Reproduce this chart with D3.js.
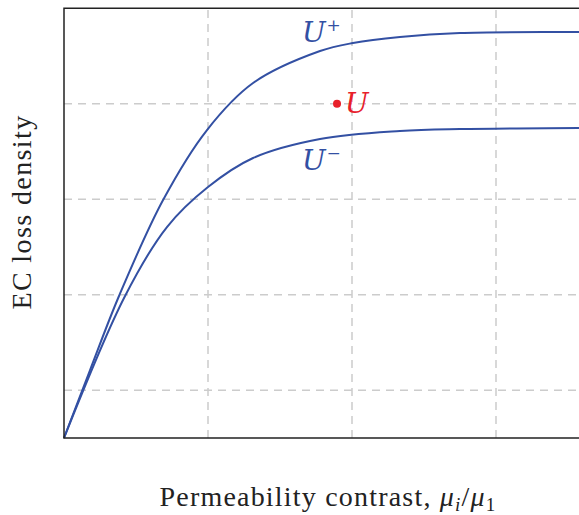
<!DOCTYPE html>
<html><head><meta charset="utf-8">
<script src="https://cdn.jsdelivr.net/npm/d3@7"></script>
<style>body{margin:0;background:#fff;} svg{display:block;}</style>
</head><body>
<script>
const xTicks = [1, 2, 3];
const yTicks = [0.5, 1.5, 2.5, 3.5];
const upperX = [0, 0.181, 0.382, 0.688, 0.993, 1.313, 1.778, 2.007, 2.333, 2.75, 3.576, 4];
const upperY = [0, 0.712, 1.487, 2.492, 3.225, 3.717, 4.052, 4.136, 4.199, 4.241, 4.251, 4.256];
const lowerX = [0, 0.424, 0.715, 1.0, 1.313, 1.778, 2.333, 2.75, 3.576, 4];
const lowerY = [0, 1.487, 2.209, 2.628, 2.932, 3.131, 3.215, 3.236, 3.246, 3.25];
const pointU = [1.896, 3.5];
const labels = {upper: "U", lower: "U", point: "U"};

const W = 579, H = 515;
const svg = d3.select("body").append("svg").attr("width", W).attr("height", H);
const x = d3.scaleLinear().domain([0, 4]).range([64, 640]);
const y = d3.scaleLinear().domain([0, 4.5]).range([438, 8.25]);

const grid = "#cccccc";
svg.append("g").selectAll("line").data(xTicks).join("line")
  .attr("x1", d => x(d)).attr("x2", d => x(d)).attr("y1", y(0)).attr("y2", y(4.5))
  .attr("stroke", grid).attr("stroke-width", 1.5).attr("stroke-dasharray", "8,6");
svg.append("g").selectAll("line").data(yTicks).join("line")
  .attr("x1", x(0)).attr("x2", x(4)).attr("y1", d => y(d)).attr("y2", d => y(d))
  .attr("stroke", grid).attr("stroke-width", 1.5).attr("stroke-dasharray", "8,6");

const line = d3.line().x(d => x(d[0])).y(d => y(d[1])).curve(d3.curveCatmullRom.alpha(0.5));
const blue = "#3350a3";
svg.append("path").datum(upperX.map((v, i) => [v, upperY[i]])).attr("d", line)
  .attr("fill", "none").attr("stroke", blue).attr("stroke-width", 2);
svg.append("path").datum(lowerX.map((v, i) => [v, lowerY[i]])).attr("d", line)
  .attr("fill", "none").attr("stroke", blue).attr("stroke-width", 2);

// frame
svg.append("path")
  .attr("d", `M${x(4)},${y(4.5)}H${x(0)}V${y(0)}H${x(4)}`)
  .attr("fill", "none").attr("stroke", "#222").attr("stroke-width", 1.5);

const serif = "'DejaVu Serif', 'Liberation Serif', serif";
const tserif = "'Liberation Serif', 'DejaVu Serif', serif";
// labels
const up = svg.append("text").attr("x", 302).attr("y", 42).attr("fill", blue)
  .attr("font-family", serif).attr("font-size", 28);
up.append("tspan").attr("font-style", "italic").text(labels.upper);
up.append("tspan").attr("dy", -11).attr("font-size", 17).attr("dx", 1).text("+");
const lo = svg.append("text").attr("x", 302).attr("y", 170).attr("fill", blue)
  .attr("font-family", serif).attr("font-size", 28);
lo.append("tspan").attr("font-style", "italic").text(labels.lower);
lo.append("tspan").attr("dy", -11).attr("font-size", 17).attr("dx", 1).text("\u2212");

svg.append("circle").attr("cx", x(pointU[0])).attr("cy", y(pointU[1])).attr("r", 4).attr("fill", "#e8202a");
svg.append("text").attr("x", x(pointU[0]) + 8).attr("y", y(pointU[1]) + 9).attr("fill", "#e8202a")
  .attr("font-family", serif).attr("font-size", 28).attr("font-style", "italic").text(labels.point);

// axis titles
const xt = svg.append("text").attr("x", 328).attr("y", 506).attr("text-anchor", "middle")
  .attr("font-family", tserif).attr("font-size", 28).attr("letter-spacing", 1.2).attr("fill", "#222");
xt.append("tspan").text("Permeability contrast, ");
xt.append("tspan").attr("font-style", "italic").text("\u03BC");
xt.append("tspan").attr("font-style", "italic").attr("font-size", 19).attr("dy", 5).text("i");
xt.append("tspan").attr("dy", -5).text("/");
xt.append("tspan").attr("font-style", "italic").text("\u03BC");
xt.append("tspan").attr("font-size", 19).attr("dy", 5).text("1");

svg.append("text").attr("transform", "translate(31,212) rotate(-90)").attr("text-anchor", "middle")
  .attr("font-family", tserif).attr("font-size", 28).attr("letter-spacing", 1.4).attr("fill", "#222").text("EC loss density");
</script>
</body></html>
